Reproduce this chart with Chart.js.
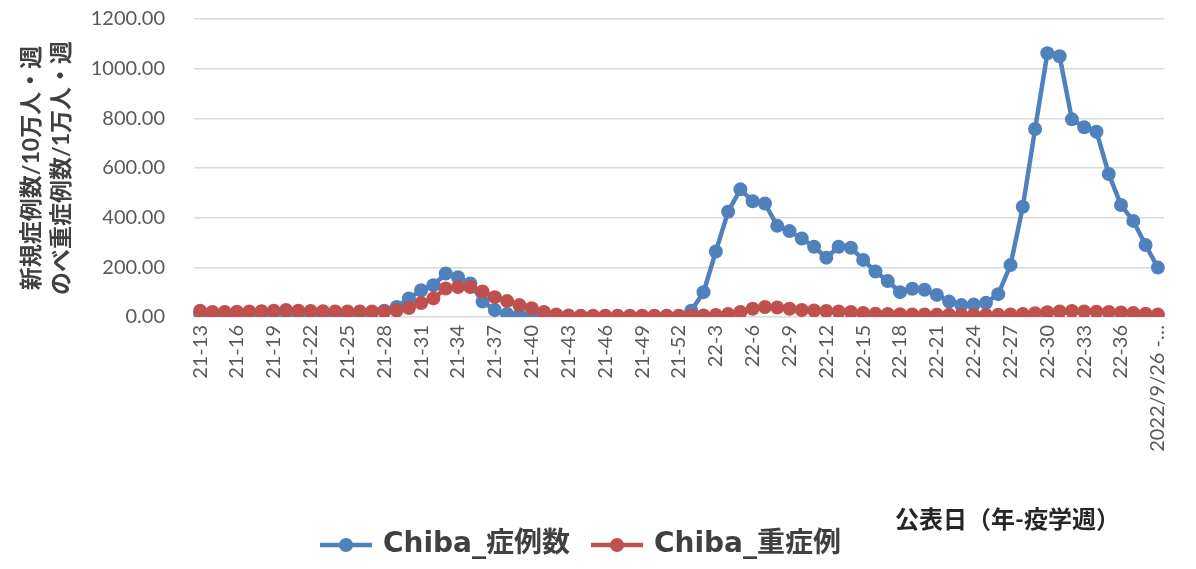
<!DOCTYPE html>
<html>
<head>
<meta charset="utf-8">
<script src="https://cdn.jsdelivr.net/npm/chart.js@4"></script>
<style>
  html, body { margin: 0; padding: 0; background: #fff; }
  #wrap { width: 1196px; height: 569px; }
</style>
</head>
<body>
<div id="wrap"><canvas id="grafico" width="1196" height="569"></canvas></div>
<script>
// categorias (年-疫学週)
const semanas = [
  '21-13','21-14','21-15','21-16','21-17','21-18','21-19','21-20','21-21','21-22',
  '21-23','21-24','21-25','21-26','21-27','21-28','21-29','21-30','21-31','21-32',
  '21-33','21-34','21-35','21-36','21-37','21-38','21-39','21-40','21-41','21-42',
  '21-43','21-44','21-45','21-46','21-47','21-48','21-49','21-50','21-51','21-52',
  '22-1','22-2','22-3','22-4','22-5','22-6','22-7','22-8','22-9','22-10',
  '22-11','22-12','22-13','22-14','22-15','22-16','22-17','22-18','22-19','22-20',
  '22-21','22-22','22-23','22-24','22-25','22-26','22-27','22-28','22-29','22-30',
  '22-31','22-32','22-33','22-34','22-35','22-36','22-37','22-38','2022/9/26 -…'
];

// Chiba_症例数 (/10万人・週)
const casos = [
  14, 12, 12, 14, 15, 14, 16, 18, 16, 15, 15, 15, 14, 16, 18,
  25, 40, 75, 108, 128, 175, 160, 135, 62, 28, 12, 8, 5, 3, 2,
  2, 2, 2, 2, 2, 2, 2, 2, 3, 4,
  25, 100, 264, 424, 514, 466, 457, 367, 346, 316,
  283, 239, 283, 279, 230, 183, 145, 100, 114, 110,
  89, 62, 48, 50, 57, 92, 209, 444, 757, 1062,
  1050, 796, 764, 746, 576, 451, 387, 290, 199
];

// Chiba_重症例 (/1万人・週)
const graves = [
  25, 20, 20, 21, 22, 23, 25, 28, 25, 24, 23, 22, 22, 22, 22,
  22, 26, 36, 56, 75, 115, 121, 121, 103, 80, 64, 48, 35, 20, 10,
  6, 5, 5, 5, 5, 5, 5, 5, 5, 5,
  6, 6, 8, 12, 20, 33, 40, 38, 33, 28,
  26, 24, 22, 20, 16, 13, 12, 11, 10, 10,
  9, 9, 8, 8, 8, 9, 10, 12, 15, 19,
  22, 24, 22, 21, 20, 18, 16, 13, 10
];

const yTicks = [0, 200, 400, 600, 800, 1000, 1200];

const AZUL = '#4F81BD';
const VERMELHO = '#C0504D';
const FONTE = "Lato, 'Noto Sans CJK JP', sans-serif";
const FONTE_NEGRITO = "'DejaVu Sans', 'Noto Sans CJK JP', sans-serif";

// símbolo da legenda: linha com ponto no meio
function simbolo(cor) {
  const c = document.createElement('canvas');
  c.width = 52; c.height = 16;
  const g = c.getContext('2d');
  g.strokeStyle = cor; g.lineWidth = 4.5;
  g.beginPath(); g.moveTo(0, 8); g.lineTo(52, 8); g.stroke();
  g.fillStyle = cor;
  g.beginPath(); g.arc(26, 8, 7, 0, Math.PI * 2); g.fill();
  return c;
}

// título do eixo x à direita
const tituloX = {
  id: 'tituloX',
  afterDraw(chart) {
    const g = chart.ctx;
    g.save();
    g.font = "bold 24px " + FONTE;
    g.fillStyle = '#262626';
    g.textAlign = 'right';
    g.textBaseline = 'middle';
    g.fillText('公表日（年-疫学週）', 1120, 520);
    g.restore();
  }
};

const chart = new Chart(document.getElementById('grafico'), {
  type: 'line',
  data: {
    labels: semanas,
    datasets: [{
      label: 'Chiba_症例数',
      data: casos,
      borderColor: AZUL,
      backgroundColor: AZUL,
      borderWidth: 4.5,
      pointRadius: 7,
      pointHoverRadius: 7,
      pointBorderWidth: 0,
      tension: 0,
      order: 1
    }, {
      label: 'Chiba_重症例',
      data: graves,
      borderColor: VERMELHO,
      backgroundColor: VERMELHO,
      borderWidth: 4.5,
      pointRadius: 7,
      pointHoverRadius: 7,
      pointBorderWidth: 0,
      tension: 0,
      order: 0
    }]
  },
  options: {
    responsive: false,
    animation: false,
    layout: { padding: { top: 0, right: 32, left: 0, bottom: 0 } },
    scales: {
      x: {
        offset: true,
        grid: { display: false, drawTicks: false },
        border: { display: false },
        ticks: {
          autoSkip: false,
          minRotation: 90,
          maxRotation: 90,
          padding: 8,
          color: '#595959',
          font: { family: FONTE, size: 20 },
          callback: (v, i) => (i % 3 === 0 ? semanas[i] : '')
        },
        afterFit: s => { s.height = s.chart.height - 317 - s.chart.legend.height; }
      },
      y: {
        min: 0,
        max: 1200,
        afterBuildTicks: s => { s.ticks = yTicks.map(v => ({ value: v })); },
        grid: { color: '#d9d9d9', lineWidth: 1.5, drawTicks: false },
        border: { display: false },
        ticks: {
          padding: 29,
          color: '#595959',
          font: { family: FONTE, size: 20 },
          callback: v => Number(v).toFixed(2)
        },
        title: {
          display: true,
          text: ['新規症例数/10万人・週', 'のべ重症例数/1万人・週'],
          color: '#404040',
          font: { family: FONTE, size: 23, weight: 'bold', lineHeight: 1.3 },
          padding: { top: 17, bottom: 0 }
        },
        afterFit: s => { s.width = 194; s.paddingTop = 19; s.paddingBottom = 0; }
      }
    },
    plugins: {
      legend: {
        display: true,
        position: 'bottom',
        labels: {
          usePointStyle: true,
          pointStyleWidth: 46,
          boxHeight: 16,
          padding: 24,
          color: '#404040',
          font: { family: FONTE_NEGRITO, size: 28, weight: 'bold' },
          sort: (a, b) => a.datasetIndex - b.datasetIndex,
          generateLabels: ch => {
            const itens = Chart.defaults.plugins.legend.labels.generateLabels(ch);
            itens.forEach(it => { it.pointStyle = simbolo(ch.data.datasets[it.datasetIndex].borderColor); });
            return itens;
          }
        }
      },
      tooltip: { enabled: false }
    }
  },
  plugins: [tituloX]
});
</script>
</body>
</html>
